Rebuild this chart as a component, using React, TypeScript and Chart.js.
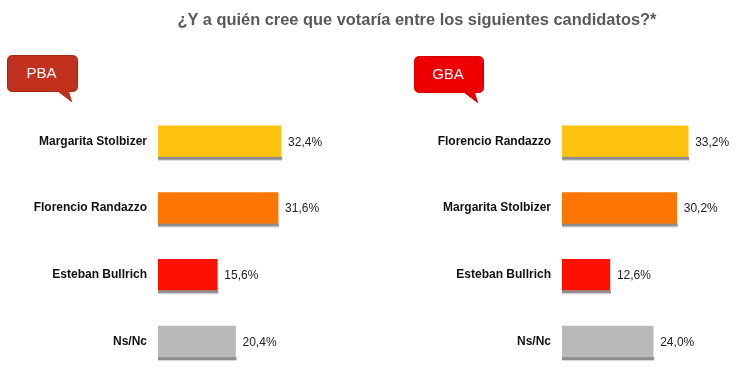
import React, { useEffect, useRef } from "react";
import { Chart, registerables } from "chart.js";

Chart.register(...registerables);

const titleText = "¿Y a quién cree que votaría entre los siguientes candidatos?*";

const pbaLabel = "PBA";
const pbaCandidates = ["Margarita Stolbizer", "Florencio Randazzo", "Esteban Bullrich", "Ns/Nc"];
const pbaValues = [32.4, 31.6, 15.6, 20.4];

const gbaLabel = "GBA";
const gbaCandidates = ["Florencio Randazzo", "Margarita Stolbizer", "Esteban Bullrich", "Ns/Nc"];
const gbaValues = [33.2, 30.2, 12.6, 24.0];

const barColors = ["#FEC30F", "#FD7603", "#FE1000", "#B9B9B9"];

const fmt = (v: number) => v.toFixed(1).replace(".", ",") + "%";

const barDecor = {
  id: "barDecor",
  afterDatasetsDraw(chart: any) {
    const ctx = chart.ctx;
    const meta = chart.getDatasetMeta(0);
    const data = chart.data.datasets[0].data as number[];
    ctx.save();
    meta.data.forEach((bar: any, i: number) => {
      const h = bar.height;
      const bottom = bar.y + h / 2;
      ctx.fillStyle = "#8e8e8e";
      ctx.fillRect(bar.base, bottom, bar.x - bar.base + 1, 3);
      ctx.fillStyle = "#d8d8d8";
      ctx.fillRect(bar.base, bottom + 3, bar.x - bar.base + 1, 1);
      ctx.fillStyle = "#222";
      ctx.font = "12px 'Liberation Sans', Arial, sans-serif";
      ctx.textAlign = "left";
      ctx.textBaseline = "middle";
      ctx.fillText(fmt(data[i]), bar.x + 7, bar.y + 1);
    });
    ctx.restore();
  },
};

function Panel({ labels, values, axisWidth, padRight }: { labels: string[]; values: number[]; axisWidth: number; padRight: number }) {
  const ref = useRef<HTMLCanvasElement>(null);
  useEffect(() => {
    const chart = new Chart(ref.current!, {
      type: "bar",
      data: {
        labels,
        datasets: [
          {
            data: values,
            backgroundColor: barColors,
            borderWidth: 0,
            barThickness: 31,
          },
        ],
      },
      options: {
        indexAxis: "y",
        animation: false,
        responsive: false,
        maintainAspectRatio: false,
        layout: { padding: { top: 108, bottom: 9, left: 0, right: padRight } },
        plugins: { legend: { display: false }, tooltip: { enabled: false }, title: { display: false } },
        scales: {
          x: { display: false, min: 0, max: 45 },
          y: {
            grid: { display: false, drawTicks: true, tickLength: 11 },
            border: { display: false },
            ticks: {
              padding: 0,
              color: "#111",
              font: { family: "'Liberation Sans', Arial, sans-serif", size: 12, weight: "bold" },
            },
            afterFit: (scale: any) => {
              scale.width = axisWidth;
            },
          },
        },
      },
      plugins: [barDecor],
    });
    return () => chart.destroy();
  }, []);
  return <canvas ref={ref} width={375} height={384} style={{ width: 375, height: 384, display: "block" }} />;
}

function Badge({ x, y, w, h, fill, stroke, text }: any) {
  const r = 5;
  const tx1 = x + w - 19;
  const tx2 = x + w - 9;
  const path = `M${x + r},${y} H${x + w - r} Q${x + w},${y} ${x + w},${y + r} V${y + h - r} Q${x + w},${y + h} ${x + w - r},${y + h} H${tx2} L${tx2 + 3},${y + h + 10} L${tx1},${y + h} H${x + r} Q${x},${y + h} ${x},${y + h - r} V${y + r} Q${x},${y} ${x + r},${y} Z`;
  return (
    <svg style={{ position: "absolute", left: 0, top: 0, overflow: "visible" }} width={1} height={1}>
      <path d={path} fill={fill} stroke={stroke} strokeWidth={1} />
      <text
        x={x + w / 2 - 1}
        y={y + h / 2 + 1}
        fill="#fff"
        fontFamily="'Liberation Sans', Arial, sans-serif"
        fontSize={15}
        textAnchor="middle"
        dominantBaseline="middle"
      >
        {text}
      </text>
    </svg>
  );
}

export default function App() {
  return (
    <div style={{ position: "absolute", left: 0, top: 0, width: 750, height: 384, background: "#fff", overflow: "hidden" }}>
      <div style={{ position: "absolute", left: 0, top: 0 }}>
        <Panel labels={pbaCandidates} values={pbaValues} axisWidth={158} padRight={46} />
      </div>
      <div style={{ position: "absolute", left: 375, top: 0 }}>
        <Panel labels={gbaCandidates} values={gbaValues} axisWidth={187} padRight={17} />
      </div>
      <div
        style={{
          position: "absolute",
          left: 0,
          width: 834,
          top: 9,
          textAlign: "center",
          whiteSpace: "nowrap",
          fontFamily: "'Liberation Sans', Arial, sans-serif",
          fontWeight: "bold",
          fontSize: 16.4,
          color: "#595959",
          lineHeight: "20px",
        }}
      >
        {titleText}
      </div>
      <Badge x={7.5} y={55.5} w={70} h={36} fill="#C2311D" stroke="#A52815" text={pbaLabel} />
      <Badge x={414.5} y={56.5} w={69} h={36} fill="#EE0000" stroke="#D40000" text={gbaLabel} />
    </div>
  );
}
